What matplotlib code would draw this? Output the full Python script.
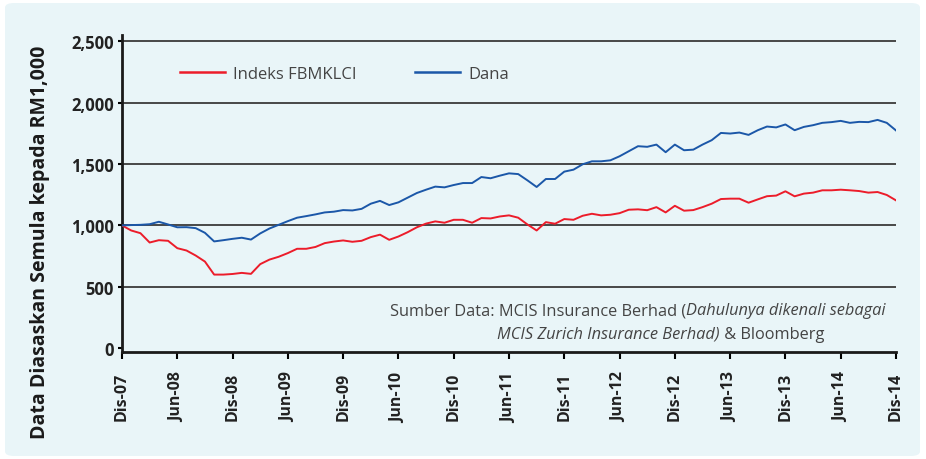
import numpy as np
import matplotlib
matplotlib.use("Agg")
import matplotlib.pyplot as plt
from matplotlib.patches import FancyBboxPatch

# Monthly values, Dis-07 .. Dis-14 (85 points)
fbmklci = [1000, 959, 937, 861, 880, 875, 815, 796, 755, 706,
           600, 600, 605, 614, 606, 685, 722, 745, 775, 810,
           810, 825, 856, 869, 878, 867, 875, 905, 925, 883,
           910, 945, 985, 1015, 1033, 1022, 1046, 1046, 1022, 1060,
           1057, 1073, 1082, 1063, 1008, 959, 1027, 1014, 1052, 1046,
           1079, 1095, 1082, 1087, 1100, 1128, 1131, 1124, 1149, 1106,
           1160, 1120, 1125, 1149, 1177, 1215, 1218, 1218, 1185, 1212,
           1238, 1243, 1278, 1237, 1259, 1267, 1286, 1286, 1291, 1286,
           1280, 1267, 1272, 1248, 1204]
dana = [1000, 1003, 1005, 1010, 1030, 1008, 985, 986, 978, 940,
        870, 880, 891, 900, 885, 935, 975, 1005, 1035, 1063,
        1076, 1090, 1106, 1112, 1125, 1122, 1135, 1177, 1200, 1166,
        1188, 1226, 1264, 1291, 1316, 1310, 1329, 1345, 1345, 1394,
        1384, 1405, 1424, 1418, 1367, 1313, 1378, 1378, 1438, 1454,
        1498, 1522, 1522, 1530, 1563, 1604, 1645, 1640, 1658, 1596,
        1658, 1612, 1617, 1658, 1694, 1753, 1748, 1756, 1737, 1775,
        1805, 1798, 1822, 1775, 1802, 1816, 1835, 1841, 1851, 1835,
        1843, 1841, 1859, 1835, 1773]
tick_labels = ["Dis-07", "Jun-08", "Dis-08", "Jun-09", "Dis-09", "Jun-10", "Dis-10",
               "Jun-11", "Dis-11", "Jun-12", "Dis-12", "Jun-13", "Dis-13", "Jun-14", "Dis-14"]
yticks = [0, 500, 1000, 1500, 2000, 2500]

W, H = 926, 460
bg = "#e9f5f8"
red = "#ec1c2a"
blue = "#1b57a8"
plt.rcParams["font.family"] = ["Open Sans", "DejaVu Sans"]

fig = plt.figure(figsize=(W / 100, H / 100), dpi=100, facecolor="white")
panel = FancyBboxPatch((5 / W, 3 / H), 915 / W, 453 / H, boxstyle="round,pad=0,rounding_size=0.01",
                       transform=fig.transFigure, facecolor=bg, edgecolor="none", zorder=-5)
fig.patches.append(panel)

ax = fig.add_axes([122 / W, 1 - 353 / H, (896 - 122) / W, (353 - 36) / H])
ax.set_facecolor("none")

months = np.arange(len(dana))
for v in yticks[1:]:
    ax.axhline(v, color="#3a3a3a", lw=1.3, zorder=1)
ax.plot(months, fbmklci, color=red, lw=1.4, label="Indeks FBMKLCI", zorder=3)
ax.plot(months, dana, color=blue, lw=1.4, label="Dana", zorder=3)

ax.set_xlim(0, 84)
ax.set_ylim(-30, 2550)
ax.set_xticks(np.arange(0, 85, 6))
ax.set_xticklabels(tick_labels, rotation=90, fontsize=11.5, fontweight="bold", color="#222222")
ax.set_yticks(yticks)
ax.set_yticklabels([f"{v:,}" for v in yticks], fontsize=12, fontweight="bold", color="#222222")
ax.tick_params(axis="x", direction="out", length=5, width=1.5, pad=9)
ax.tick_params(axis="y", direction="out", length=3, width=1.5, pad=3)
for s in ["top", "right"]:
    ax.spines[s].set_visible(False)
for s in ["left", "bottom"]:
    ax.spines[s].set_linewidth(2)
    ax.spines[s].set_color("#1a1a1a")

# y label sits lower than the axes centre in the reference
fig.text(40 / W, 1 - 242 / H, "Data Diasaskan Semula kepada RM1,000", rotation=90,
         fontsize=14, fontweight="bold", color="#1a1a1a", ha="center", va="center")

leg = ax.legend(loc="upper left", bbox_to_anchor=(58 / 774, 1 - 31 / 317), ncol=2, frameon=False,
                fontsize=12, handlelength=2.7, handletextpad=0.5, columnspacing=3.5,
                borderaxespad=0, borderpad=0)
for t in leg.get_texts():
    t.set_color("#444444")
for h in leg.get_lines():
    h.set_linewidth(1.8)

# source note, mixed upright / italic pieces chained one after another
fs = 11.8
t1 = fig.text(390 / W, 1 - 315 / H, "Sumber Data: MCIS Insurance Berhad (",
              fontsize=fs, color="#444444", va="baseline")
ax.annotate("Dahulunya dikenali sebagai", xy=(1, 0), xycoords=t1, va="bottom",
            fontsize=fs, color="#444444", style="italic", annotation_clip=False)
t2 = fig.text(497 / W, 1 - 339 / H, "MCIS Zurich Insurance Berhad)", style="italic",
              fontsize=fs, color="#444444", va="baseline")
ax.annotate(" & Bloomberg", xy=(1, 0), xycoords=t2, va="bottom", fontsize=fs,
            color="#444444", annotation_clip=False)

fig.savefig("out.png", dpi=100, facecolor="white")
